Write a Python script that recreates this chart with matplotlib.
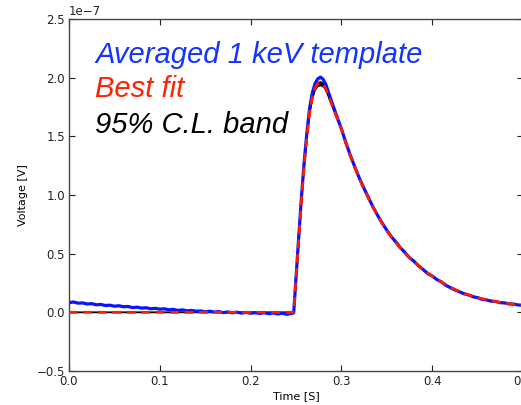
import matplotlib
matplotlib.use('Agg')
import matplotlib.pyplot as plt
import numpy as np

# values in units of 1e-7 V
scale = 1e-7

# averaged template, baseline part (t = 0 ... 0.245, step 0.005)
t_base = [0.000, 0.005, 0.010, 0.015, 0.020, 0.025, 0.030, 0.035, 0.040, 0.045,
          0.050, 0.055, 0.060, 0.065, 0.070, 0.075, 0.080, 0.085, 0.090, 0.095,
          0.100, 0.105, 0.110, 0.115, 0.120, 0.125, 0.130, 0.135, 0.140, 0.145,
          0.150, 0.155, 0.160, 0.165, 0.170, 0.175, 0.180, 0.185, 0.190, 0.195,
          0.200, 0.205, 0.210, 0.215, 0.220, 0.225, 0.230, 0.235, 0.240, 0.245]
avg_base = [0.082, 0.088, 0.078, 0.080, 0.071, 0.074, 0.064, 0.067, 0.058, 0.061,
            0.052, 0.056, 0.047, 0.050, 0.040, 0.044, 0.036, 0.039, 0.030, 0.034,
            0.027, 0.030, 0.022, 0.025, 0.016, 0.021, 0.013, 0.016, 0.009, 0.012,
            0.004, 0.010, 0.002, 0.006, -0.003, 0.003, -0.004, 0.001, -0.007, -0.001,
            -0.008, -0.003, -0.010, -0.004, -0.012, -0.006, -0.014, -0.008, -0.017, -0.010]

# pulse part
t_pulse = [0.2475, 0.250, 0.253, 0.256, 0.259, 0.262, 0.265, 0.268, 0.271, 0.274,
           0.277, 0.280, 0.283, 0.286, 0.290, 0.295, 0.300, 0.305, 0.310, 0.315,
           0.320, 0.325, 0.330, 0.335, 0.340, 0.345, 0.350, 0.355, 0.360, 0.365,
           0.370, 0.375, 0.380, 0.385, 0.390, 0.395, 0.400, 0.405, 0.410, 0.415,
           0.420, 0.425, 0.430, 0.435, 0.440, 0.445, 0.450, 0.455, 0.460, 0.465,
           0.470, 0.475, 0.480, 0.485, 0.490, 0.495, 0.500]
avg_pulse = [-0.005, 0.29, 0.64, 0.98, 1.28, 1.53, 1.74, 1.87, 1.95, 1.99,
             2.005, 1.985, 1.94, 1.87, 1.78, 1.67, 1.565, 1.445, 1.335, 1.235,
             1.14, 1.055, 0.975, 0.895, 0.825, 0.76, 0.70, 0.645, 0.60, 0.55,
             0.51, 0.465, 0.435, 0.395, 0.365, 0.33, 0.31, 0.28, 0.26, 0.23,
             0.21, 0.19, 0.175, 0.158, 0.148, 0.132, 0.125, 0.11, 0.105, 0.095,
             0.092, 0.082, 0.080, 0.071, 0.070, 0.062, 0.060]
fit_pulse = [0.0, 0.28, 0.62, 0.95, 1.25, 1.50, 1.70, 1.83, 1.91, 1.95,
             1.955, 1.94, 1.90, 1.84, 1.76, 1.66, 1.56, 1.44, 1.33, 1.23,
             1.135, 1.05, 0.97, 0.893, 0.823, 0.758, 0.698, 0.643, 0.593, 0.548,
             0.506, 0.467, 0.432, 0.398, 0.366, 0.336, 0.308, 0.282, 0.258, 0.236,
             0.214, 0.195, 0.178, 0.163, 0.149, 0.137, 0.126, 0.116, 0.107, 0.099,
             0.092, 0.085, 0.079, 0.073, 0.068, 0.064, 0.060]

# 95% C.L. band
band_t = [0.0, 0.2475, 0.250, 0.253, 0.256, 0.259, 0.262, 0.265, 0.268, 0.271,
          0.274, 0.277, 0.280, 0.283, 0.286, 0.290, 0.295, 0.300, 0.310, 0.320,
          0.330, 0.340, 0.350, 0.360, 0.370, 0.380, 0.390, 0.400, 0.410, 0.420,
          0.430, 0.440, 0.450, 0.460, 0.470, 0.480, 0.490, 0.500]
band_lo = [0.0, 0.0, 0.26, 0.60, 0.93, 1.23, 1.48, 1.68, 1.81, 1.89,
           1.925, 1.93, 1.915, 1.875, 1.815, 1.74, 1.64, 1.545, 1.32, 1.125,
           0.962, 0.816, 0.692, 0.588, 0.502, 0.428, 0.363, 0.305, 0.256, 0.212,
           0.176, 0.147, 0.124, 0.105, 0.090, 0.077, 0.066, 0.059]
band_hi = [0.0, 0.0, 0.30, 0.64, 0.97, 1.27, 1.52, 1.72, 1.85, 1.93,
           1.97, 1.975, 1.96, 1.92, 1.86, 1.775, 1.675, 1.575, 1.34, 1.145,
           0.978, 0.830, 0.704, 0.598, 0.510, 0.436, 0.369, 0.311, 0.260, 0.216,
           0.180, 0.151, 0.128, 0.109, 0.094, 0.081, 0.070, 0.061]

t_avg = np.array(t_base + t_pulse)
v_avg = np.array(avg_base + avg_pulse) * scale
t_fit = np.array([0.0] + t_pulse)
v_fit = np.array([0.0] + fit_pulse) * scale

plt.rcParams['font.family'] = 'DejaVu Sans'
fig = plt.figure(figsize=(5.21, 4.05), dpi=100)
ax = fig.add_axes([0.1324, 0.0840, 0.8714, 0.8691])

bt = np.array(band_t)
lo = np.array(band_lo) * scale
hi = np.array(band_hi) * scale
ax.fill_between(bt, lo, hi, color='black', lw=0, zorder=1)
ax.plot(bt, (lo + hi) / 2, color='black', lw=1.3, zorder=1)
ax.plot(t_avg, v_avg, color='#0a14ff', lw=2.3, zorder=2)
ax.plot(t_fit, v_fit, color='#ff1a00', lw=2, ls='--', dashes=(3.2, 2.0), zorder=3)

ax.set_xlim(0, 0.5)
ax.set_ylim(-0.5e-7, 2.5e-7)
ax.set_xticks([0.0, 0.1, 0.2, 0.3, 0.4, 0.5])
ax.set_yticks(np.array([-0.5, 0.0, 0.5, 1.0, 1.5, 2.0, 2.5]) * scale)
ax.tick_params(direction='in', top=True, right=True, length=4, width=0.8,
               labelsize=8.5, pad=3, colors='#222222')
ax.yaxis.get_offset_text().set_fontsize(8.5)
for s in ax.spines.values():
    s.set_color('#444444')
    s.set_linewidth(1.0)

ax.set_xlabel('Time [S]', fontsize=8, labelpad=2)
ax.set_ylabel('Voltage [V]', fontsize=8, labelpad=6)

txt = dict(fontsize=21, style='italic', family='Liberation Sans')
fig.text(95 / 521, 1 - 63 / 405, 'Averaged 1 keV template', color='#1433ff', **txt)
fig.text(95 / 521, 1 - 97 / 405, 'Best fit', color='#ff2200', **txt)
fig.text(95 / 521, 1 - 133 / 405, '95% C.L. band', color='black', **txt)

fig.savefig('out.png', dpi=100)
